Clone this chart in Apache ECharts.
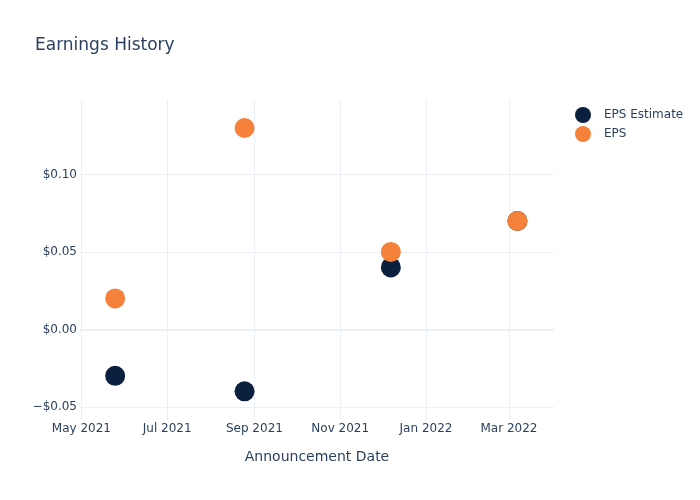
<!DOCTYPE html>
<html>
<head>
<meta charset="utf-8">
<script src="https://cdn.jsdelivr.net/npm/echarts@6/dist/echarts.min.js"></script>
<style>html,body{margin:0;padding:0;background:#fff}#c{width:700px;height:500px}</style>
</head>
<body>
<div id="c"></div>
<script>
const dates = ['2021-05-25', '2021-08-25', '2021-12-07', '2022-03-07'];
const epsEstimate = [-0.03, -0.04, 0.04, 0.07];
const eps = [0.02, 0.13, 0.05, 0.07];
const xTickDates = ['2021-05-01', '2021-07-01', '2021-09-01', '2021-11-01', '2022-01-01', '2022-03-01'];
const yTicks = [-0.05, 0, 0.05, 0.10];
const months = ['Jan','Feb','Mar','Apr','May','Jun','Jul','Aug','Sep','Oct','Nov','Dec'];

function ts(s) { const p = s.split('-').map(Number); return Date.UTC(p[0], p[1]-1, p[2]); }
const xTicks = xTickDates.map(ts);
const textColor = '#2a3f5f';
const gridColor = '#EBF0F8';
const font = '"DejaVu Sans", Verdana, sans-serif';

const chart = echarts.init(document.getElementById('c'), null, {renderer: 'canvas'});
chart.setOption({
  animation: false,
  backgroundColor: '#fff',
  textStyle: {fontFamily: font, color: textColor},
  title: {
    text: 'Earnings History', left: 30, top: 32,
    textStyle: {fontSize: 17, fontWeight: 'normal', color: textColor, fontFamily: font}
  },
  legend: {
    orient: 'vertical', left: 570, top: 102, itemWidth: 16, itemHeight: 16, itemGap: 3,
    icon: 'circle',
    textStyle: {fontSize: 12, color: textColor, fontFamily: font, padding: [0, 0, 0, 8]},
    data: ['EPS Estimate', 'EPS']
  },
  grid: {left: 80, right: 146, top: 100, bottom: 80, containLabel: false},
  xAxis: {
    type: 'value',
    min: ts('2021-04-30'), max: ts('2022-04-02'),
    name: 'Announcement Date', nameLocation: 'middle', nameGap: 30,
    nameTextStyle: {fontSize: 14, color: textColor, fontFamily: font},
    axisLine: {show: false},
    axisTick: {show: false, customValues: xTicks},
    axisLabel: {
      customValues: xTicks, fontSize: 12, color: textColor, margin: 3, fontFamily: font,
      formatter: function (v) { const d = new Date(v); return months[d.getUTCMonth()] + ' ' + d.getUTCFullYear(); }
    },
    splitLine: {show: true, lineStyle: {color: gridColor, width: 1}}
  },
  yAxis: {
    type: 'value', min: -0.0585, max: 0.1481,
    axisLine: {show: false},
    axisTick: {show: false, customValues: yTicks},
    axisLabel: {
      customValues: yTicks, fontSize: 12, color: textColor, margin: 3, fontFamily: font,
      formatter: function (v) { return (v < 0 ? '\u2212$' : '$') + Math.abs(v).toFixed(2); }
    },
    splitLine: {show: true, lineStyle: {color: gridColor, width: 1}}
  },
  series: [
    {
      name: 'EPS Estimate', type: 'scatter', symbolSize: 20,
      itemStyle: {color: '#0b1f3f', opacity: 1},
      data: dates.map((d, i) => [ts(d), epsEstimate[i]]),
      markLine: {
        silent: true, symbol: 'none', label: {show: false},
        lineStyle: {color: gridColor, width: 2, type: 'solid'},
        data: [{yAxis: 0}], z: 0
      },
      z: 3
    },
    {
      name: 'EPS', type: 'scatter', symbolSize: 20,
      itemStyle: {color: '#f5813a', opacity: 1},
      data: dates.map((d, i) => [ts(d), eps[i]]),
      z: 4
    }
  ]
});
</script>
</body>
</html>
